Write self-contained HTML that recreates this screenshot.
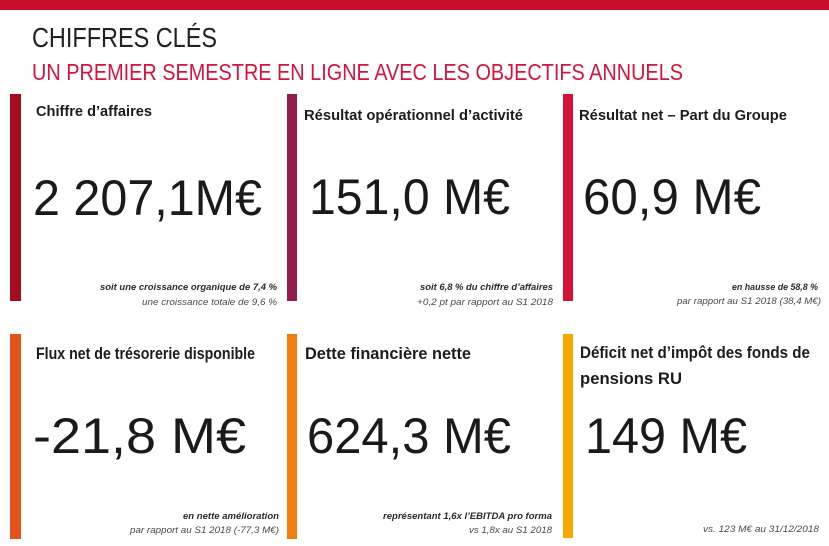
<!DOCTYPE html>
<html>
<head>
<meta charset="utf-8">
<style>
  html,body{margin:0;padding:0;background:#fff;}
  svg{display:block;}
  text{font-family:"Liberation Sans",Arial,sans-serif;}
  .lab{font-weight:bold;fill:#1c1c1c;}
  .big{fill:#1a1a1a;font-size:50px;}
  .sb{font-style:italic;font-weight:bold;fill:#2a2a2a;font-size:9.5px;}
  .sn{font-style:italic;fill:#4a4a4a;font-size:9.5px;}
</style>
</head>
<body>
<svg width="829" height="546" viewBox="0 0 829 546" xmlns="http://www.w3.org/2000/svg">
  <rect x="0" y="0" width="829" height="546" fill="#ffffff"/>
  <!-- top band -->
  <rect x="0" y="0" width="829" height="10" fill="#c90c2c"/>

  <!-- titles -->
  <text x="32" y="47" font-size="28" fill="#222" textLength="185" lengthAdjust="spacingAndGlyphs">CHIFFRES CLÉS</text>
  <text x="32" y="80" font-size="23" fill="#d5143c" textLength="651" lengthAdjust="spacingAndGlyphs">UN PREMIER SEMESTRE EN LIGNE AVEC LES OBJECTIFS ANNUELS</text>

  <!-- bars -->
  <rect x="10" y="94" width="11" height="207" fill="#a50d1c"/>
  <rect x="287" y="94" width="10" height="207" fill="#931d4e"/>
  <rect x="563" y="94" width="10" height="207" fill="#d5133a"/>
  <rect x="10" y="334" width="11" height="205" fill="#e5531d"/>
  <rect x="287" y="334" width="10" height="205" fill="#ef7d11"/>
  <rect x="563" y="334" width="10" height="204" fill="#f5a800"/>

  <!-- row 1 labels -->
  <text class="lab" x="36" y="116" font-size="14.5" textLength="116" lengthAdjust="spacingAndGlyphs">Chiffre d’affaires</text>
  <text class="lab" x="304" y="120" font-size="14.5" textLength="219" lengthAdjust="spacingAndGlyphs">Résultat opérationnel d’activité</text>
  <text class="lab" x="579" y="120" font-size="14.5" textLength="208" lengthAdjust="spacingAndGlyphs">Résultat net – Part du Groupe</text>

  <!-- row 1 big numbers -->
  <text class="big" x="33" y="215" textLength="229" lengthAdjust="spacingAndGlyphs">2 207,1M€</text>
  <text class="big" x="309" y="214" textLength="201" lengthAdjust="spacingAndGlyphs">151,0 M€</text>
  <text class="big" x="583" y="214" textLength="178" lengthAdjust="spacingAndGlyphs">60,9 M€</text>

  <!-- row 1 small -->
  <text class="sb" x="100" y="290" textLength="177" lengthAdjust="spacingAndGlyphs">soit une croissance organique de  7,4 %</text>
  <text class="sn" x="142" y="305" textLength="135" lengthAdjust="spacingAndGlyphs">une croissance totale de  9,6 %</text>
  <text class="sb" x="420" y="290" textLength="133" lengthAdjust="spacingAndGlyphs">soit 6,8 % du chiffre d’affaires</text>
  <text class="sn" x="417" y="305" textLength="136" lengthAdjust="spacingAndGlyphs">+0,2 pt par rapport au S1 2018</text>
  <text class="sb" x="732" y="290" textLength="86" lengthAdjust="spacingAndGlyphs">en hausse de 58,8 %</text>
  <text class="sn" x="677" y="304" textLength="144" lengthAdjust="spacingAndGlyphs">par rapport au S1 2018 (38,4 M€)</text>

  <!-- row 2 labels -->
  <text class="lab" x="36" y="359" font-size="17" textLength="219" lengthAdjust="spacingAndGlyphs">Flux net de trésorerie disponible</text>
  <text class="lab" x="305" y="359" font-size="17" textLength="166" lengthAdjust="spacingAndGlyphs">Dette financière nette</text>
  <text class="lab" x="580" y="358" font-size="17" textLength="230" lengthAdjust="spacingAndGlyphs">Déficit net d’impôt des fonds de</text>
  <text class="lab" x="580" y="384" font-size="17" textLength="102" lengthAdjust="spacingAndGlyphs">pensions RU</text>

  <!-- row 2 big numbers -->
  <text class="big" x="33" y="453" textLength="213" lengthAdjust="spacingAndGlyphs">-21,8 M€</text>
  <text class="big" x="307" y="453" textLength="204" lengthAdjust="spacingAndGlyphs">624,3 M€</text>
  <text class="big" x="585" y="453" textLength="162" lengthAdjust="spacingAndGlyphs">149 M€</text>

  <!-- row 2 small -->
  <text class="sb" x="183" y="519" textLength="96" lengthAdjust="spacingAndGlyphs">en nette amélioration</text>
  <text class="sn" x="130" y="533" textLength="149" lengthAdjust="spacingAndGlyphs">par rapport au S1 2018 (-77,3 M€)</text>
  <text class="sb" x="383" y="519" textLength="169" lengthAdjust="spacingAndGlyphs">représentant 1,6x l’EBITDA pro forma</text>
  <text class="sn" x="469" y="533" textLength="83" lengthAdjust="spacingAndGlyphs">vs 1,8x au S1 2018</text>
  <text class="sn" x="703" y="532" textLength="116" lengthAdjust="spacingAndGlyphs">vs. 123 M€ au 31/12/2018</text>
</svg>
</body>
</html>
